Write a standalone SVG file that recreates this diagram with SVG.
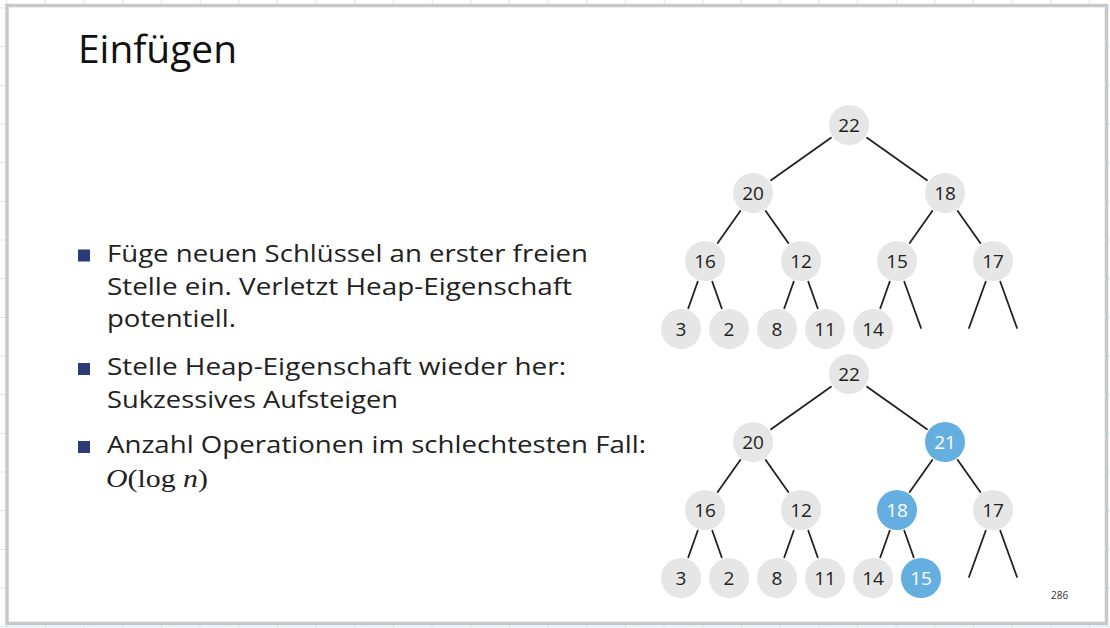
<svg xmlns="http://www.w3.org/2000/svg" width="1110" height="628" viewBox="0 0 1110 628">
  <defs>
    <pattern id="grid" x="6.3" y="7.5" width="38.67" height="38.67" patternUnits="userSpaceOnUse">
      <path d="M0 0 H38.67 M0 0 V38.67" fill="none" stroke="#d3e8f8" stroke-width="2"/>
    </pattern>
  </defs>
  <style>
    .title { font-family: "Open Sans", "Noto Sans", sans-serif; font-size: 38px; fill: #111; }
    .body { font-family: "Open Sans", "Noto Sans", sans-serif; font-size: 23px; fill: #222; }
    .math { font-family: "Liberation Serif", "DejaVu Serif", serif; font-size: 26px; fill: #222; }
    .bullet { fill: #2b3a78; }
    .n circle { fill: #e6e6e6; }
    .n.hl circle { fill: #65afe0; }
    .n text { font-family: "Open Sans", "Noto Sans", sans-serif; font-size: 19px; fill: #222; text-anchor: middle; }
    .n.hl text { fill: #ffffff; }
    .edges line { stroke: #222; stroke-width: 1.8; stroke-linecap: round; }
    .pg { font-family: "Open Sans", "Noto Sans", sans-serif; font-size: 10px; fill: #333; }
  </style>
  <rect x="0" y="0" width="1110" height="628" fill="#ffffff"/>
  <rect x="0" y="0" width="1110" height="628" fill="url(#grid)"/>
  <rect x="7" y="5.5" width="1099.5" height="618" fill="#ffffff" stroke="#c8c8c8" stroke-width="3.5"/>

  <text class="title" x="78" y="63" textLength="159" lengthAdjust="spacingAndGlyphs">Einfügen</text>

  <g id="bullets">
    <rect class="bullet" x="78" y="249.5" width="12" height="12"/>
    <rect class="bullet" x="78" y="363" width="12" height="12"/>
    <rect class="bullet" x="78" y="441" width="12" height="12"/>
    <text class="body" x="107" y="262" textLength="481" lengthAdjust="spacingAndGlyphs">Füge neuen Schlüssel an erster freien</text>
    <text class="body" x="107" y="295" textLength="465" lengthAdjust="spacingAndGlyphs">Stelle ein. Verletzt Heap-Eigenschaft</text>
    <text class="body" x="107" y="327" textLength="129" lengthAdjust="spacingAndGlyphs">potentiell.</text>
    <text class="body" x="107" y="375" textLength="459" lengthAdjust="spacingAndGlyphs">Stelle Heap-Eigenschaft wieder her:</text>
    <text class="body" x="107" y="408" textLength="291" lengthAdjust="spacingAndGlyphs">Sukzessives Aufsteigen</text>
    <text class="body" x="107" y="453" textLength="539" lengthAdjust="spacingAndGlyphs">Anzahl Operationen im schlechtesten Fall:</text>
    <text class="math" x="106" y="487" textLength="102" lengthAdjust="spacingAndGlyphs"><tspan font-style="italic">O</tspan>(log <tspan font-style="italic">n</tspan>)</text>
  </g>

  <g class="edges" id="connectors">
    <line x1="831" y1="137.7" x2="771" y2="180.3"/>
    <line x1="867" y1="137.7" x2="927" y2="180.3"/>
    <line x1="740.3" y1="211" x2="717.7" y2="243"/>
    <line x1="765.7" y1="211" x2="788.3" y2="243"/>
    <line x1="932.3" y1="211" x2="909.7" y2="243"/>
    <line x1="957.7" y1="211" x2="980.3" y2="243"/>
    <line x1="697.7" y1="281.7" x2="688.3" y2="308.3"/>
    <line x1="712.3" y1="281.7" x2="721.7" y2="308.3"/>
    <line x1="793.7" y1="281.7" x2="784.3" y2="308.3"/>
    <line x1="808.3" y1="281.7" x2="817.7" y2="308.3"/>
    <line x1="889.7" y1="281.7" x2="880.3" y2="308.3"/>
    <line x1="904.3" y1="281.7" x2="921" y2="328"/>
    <line x1="985.7" y1="281.7" x2="969" y2="328"/>
    <line x1="1000.3" y1="281.7" x2="1017" y2="328"/>

    <line x1="831" y1="386.7" x2="771" y2="429.3"/>
    <line x1="867" y1="386.7" x2="927" y2="429.3"/>
    <line x1="740.3" y1="460" x2="717.7" y2="492"/>
    <line x1="765.7" y1="460" x2="788.3" y2="492"/>
    <line x1="932.3" y1="460" x2="909.7" y2="492"/>
    <line x1="957.7" y1="460" x2="980.3" y2="492"/>
    <line x1="697.7" y1="530.7" x2="688.3" y2="557.3"/>
    <line x1="712.3" y1="530.7" x2="721.7" y2="557.3"/>
    <line x1="793.7" y1="530.7" x2="784.3" y2="557.3"/>
    <line x1="808.3" y1="530.7" x2="817.7" y2="557.3"/>
    <line x1="889.7" y1="530.7" x2="880.3" y2="557.3"/>
    <line x1="904.3" y1="530.7" x2="913.7" y2="557.3"/>
    <line x1="985.7" y1="530.7" x2="969" y2="577"/>
    <line x1="1000.3" y1="530.7" x2="1017" y2="577"/>
  </g>

  <g id="tree1">
    <g class="n" id="t1-22"><circle cx="849" cy="125" r="20"/><text x="849" y="132">22</text></g>
    <g class="n" id="t1-20"><circle cx="753" cy="193" r="20"/><text x="753" y="200">20</text></g>
    <g class="n" id="t1-18"><circle cx="945" cy="193" r="20"/><text x="945" y="200">18</text></g>
    <g class="n" id="t1-16"><circle cx="705" cy="261" r="20"/><text x="705" y="268">16</text></g>
    <g class="n" id="t1-12"><circle cx="801" cy="261" r="20"/><text x="801" y="268">12</text></g>
    <g class="n" id="t1-15"><circle cx="897" cy="261" r="20"/><text x="897" y="268">15</text></g>
    <g class="n" id="t1-17"><circle cx="993" cy="261" r="20"/><text x="993" y="268">17</text></g>
    <g class="n" id="t1-3"><circle cx="681" cy="329" r="20"/><text x="681" y="336">3</text></g>
    <g class="n" id="t1-2"><circle cx="729" cy="329" r="20"/><text x="729" y="336">2</text></g>
    <g class="n" id="t1-8"><circle cx="777" cy="329" r="20"/><text x="777" y="336">8</text></g>
    <g class="n" id="t1-11"><circle cx="825" cy="329" r="20"/><text x="825" y="336">11</text></g>
    <g class="n" id="t1-14"><circle cx="873" cy="329" r="20"/><text x="873" y="336">14</text></g>
  </g>

  <g id="tree2">
    <g class="n" id="t2-22"><circle cx="849" cy="374" r="20"/><text x="849" y="381">22</text></g>
    <g class="n" id="t2-20"><circle cx="753" cy="442" r="20"/><text x="753" y="449">20</text></g>
    <g class="n hl" id="t2-21"><circle cx="945" cy="442" r="20"/><text x="945" y="449">21</text></g>
    <g class="n" id="t2-16"><circle cx="705" cy="510" r="20"/><text x="705" y="517">16</text></g>
    <g class="n" id="t2-12"><circle cx="801" cy="510" r="20"/><text x="801" y="517">12</text></g>
    <g class="n hl" id="t2-18"><circle cx="897" cy="510" r="20"/><text x="897" y="517">18</text></g>
    <g class="n" id="t2-17"><circle cx="993" cy="510" r="20"/><text x="993" y="517">17</text></g>
    <g class="n" id="t2-3"><circle cx="681" cy="578" r="20"/><text x="681" y="585">3</text></g>
    <g class="n" id="t2-2"><circle cx="729" cy="578" r="20"/><text x="729" y="585">2</text></g>
    <g class="n" id="t2-8"><circle cx="777" cy="578" r="20"/><text x="777" y="585">8</text></g>
    <g class="n" id="t2-11"><circle cx="825" cy="578" r="20"/><text x="825" y="585">11</text></g>
    <g class="n" id="t2-14"><circle cx="873" cy="578" r="20"/><text x="873" y="585">14</text></g>
    <g class="n hl" id="t2-15"><circle cx="921" cy="578" r="20"/><text x="921" y="585">15</text></g>
  </g>

  <text class="pg" x="1051" y="599">286</text>
</svg>
